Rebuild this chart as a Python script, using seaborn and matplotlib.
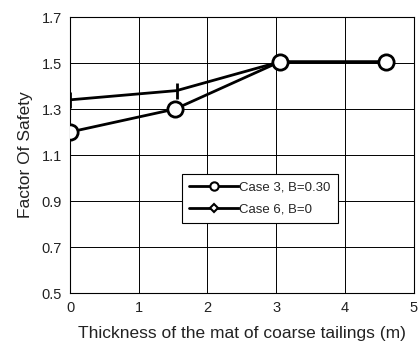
import matplotlib
matplotlib.use("Agg")
import matplotlib.pyplot as plt
import seaborn as sns
import pandas as pd
from matplotlib.lines import Line2D

thickness_case3 = [0.0, 1.53, 3.05, 4.6]
fos_case3 = [1.20, 1.30, 1.505, 1.505]
thickness_case6 = [0.0, 1.55, 3.05, 4.6]
fos_case6 = [1.34, 1.38, 1.505, 1.505]
x_ticks = [0, 1, 2, 3, 4, 5]
y_ticks = [0.5, 0.7, 0.9, 1.1, 1.3, 1.5, 1.7]

sns.set_style("white")
plt.rcParams['font.family'] = ['Liberation Sans', 'DejaVu Sans']

df3 = pd.DataFrame({"x": thickness_case3, "y": fos_case3})
df6 = pd.DataFrame({"x": thickness_case6, "y": fos_case6})

fig = plt.figure(figsize=(4.2, 3.52), dpi=100)
ax = fig.add_axes([0.1667, 0.1676, 0.818, 0.784])

sns.lineplot(data=df6, x="x", y="y", ax=ax, color="black", lw=2.0,
             marker="|", markersize=11, markeredgewidth=2.0,
             markeredgecolor="black", zorder=3)
sns.lineplot(data=df3, x="x", y="y", ax=ax, color="black", lw=2.0,
             marker="o", markersize=11, markerfacecolor="white",
             markeredgecolor="black", markeredgewidth=2.0, zorder=4)

ax.set_xlim(0, 5)
ax.set_ylim(0.5, 1.7)
ax.set_xticks(x_ticks)
ax.set_yticks(y_ticks)
ax.set_xticklabels([str(t) for t in x_ticks])
ax.set_yticklabels([f"{t:.1f}" for t in y_ticks])
ax.grid(True, color="black", lw=0.7)
ax.tick_params(axis="both", length=0, labelsize=10.5, colors="#222222")
ax.tick_params(axis="x", pad=6)
ax.tick_params(axis="y", pad=6)
for s in ax.spines.values():
    s.set_color("black")
    s.set_linewidth(0.8)

ax.set_xlabel("Thickness of the mat of coarse tailings (m)", fontsize=12.5, labelpad=8, color="#222222")
ax.set_ylabel("Factor Of Safety", fontsize=12.5, labelpad=6, color="#222222")

handles = [
    Line2D([], [], color="black", lw=2.0, marker="o", markersize=6,
           markerfacecolor="white", markeredgewidth=1.5),
    Line2D([], [], color="black", lw=2.0, marker="D", markersize=4.5,
           markerfacecolor="white", markeredgewidth=1.5),
]
leg = ax.legend(handles, ["Case 3, B=0.30", "Case 6, B=0"],
                loc="lower left", bbox_to_anchor=(0.325, 0.254),
                fontsize=9.5, frameon=True, fancybox=False,
                handlelength=3.8, handletextpad=0.0, borderpad=0.55,
                labelspacing=0.75, borderaxespad=0)
leg.get_frame().set_edgecolor("black")
leg.get_frame().set_linewidth(0.8)
leg.get_frame().set_alpha(1)

fig.savefig("out.png", dpi=100)
